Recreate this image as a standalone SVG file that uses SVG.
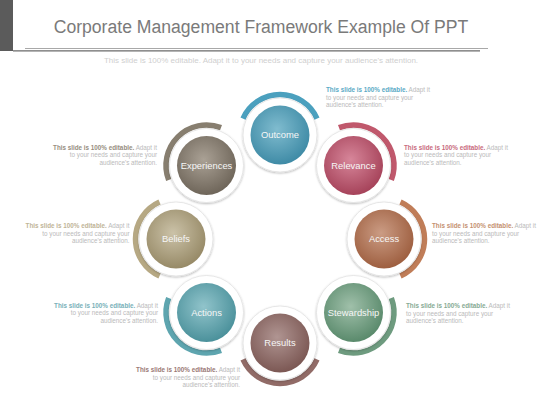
<svg xmlns="http://www.w3.org/2000/svg" width="560" height="420" viewBox="0 0 560 420">
  <style>
    .title{font-family:"Liberation Sans",Arial,sans-serif;font-size:17.6px;fill:#7a7a7a}
    .sub{font-family:"Liberation Sans",Arial,sans-serif;font-size:8px;fill:#cfcfcf}
    .desc{font-family:"Liberation Sans",Arial,sans-serif;font-size:6.3px;fill:#bababa}
    .b{font-weight:bold}
    .lbl{font-family:"Liberation Sans",Arial,sans-serif;font-size:9.4px;fill:#f6f6f6;text-anchor:middle}
    .ring{fill:#ffffff;stroke:#e2e2e2;stroke-width:0.8}
    .arc{fill:none;stroke-width:5.5}
    .end{text-anchor:end}
  </style>
  <defs>
    <filter id="sh" x="-30%" y="-30%" width="160%" height="160%">
      <feDropShadow dx="0" dy="1" stdDeviation="1.3" flood-color="#000" flood-opacity="0.28"/>
    </filter>
    <path id="arcp" d="M16.47,-37.0 A40.5,40.5 0 0 1 16.47,37.0"/>
    <radialGradient id="gOut" cx="45%" cy="40%" r="60%"><stop offset="0" stop-color="#80bccf"/><stop offset="1" stop-color="#3f8ba6"/></radialGradient>
    <radialGradient id="gRel" cx="45%" cy="40%" r="60%"><stop offset="0" stop-color="#d7869a"/><stop offset="1" stop-color="#a6435a"/></radialGradient>
    <radialGradient id="gAcc" cx="45%" cy="40%" r="60%"><stop offset="0" stop-color="#cb9c84"/><stop offset="1" stop-color="#9e5f40"/></radialGradient>
    <radialGradient id="gSte" cx="45%" cy="40%" r="60%"><stop offset="0" stop-color="#a0c0aa"/><stop offset="1" stop-color="#5a8a6c"/></radialGradient>
    <radialGradient id="gRes" cx="45%" cy="40%" r="60%"><stop offset="0" stop-color="#b09592"/><stop offset="1" stop-color="#7c5854"/></radialGradient>
    <radialGradient id="gAct" cx="45%" cy="40%" r="60%"><stop offset="0" stop-color="#91c4cb"/><stop offset="1" stop-color="#4b919b"/></radialGradient>
    <radialGradient id="gBel" cx="45%" cy="40%" r="60%"><stop offset="0" stop-color="#cbc2a8"/><stop offset="1" stop-color="#978a67"/></radialGradient>
    <radialGradient id="gExp" cx="45%" cy="40%" r="60%"><stop offset="0" stop-color="#aaa195"/><stop offset="1" stop-color="#6f665a"/></radialGradient>
  </defs>

  <rect width="560" height="420" fill="#ffffff"/>

  <g id="header">
    <rect x="0" y="0" width="13" height="51" fill="#5b5b5b"/>
    <line x1="25" y1="48.5" x2="488" y2="48.5" stroke="#a8a8a8" stroke-width="1"/>
    <line x1="13" y1="50.8" x2="480" y2="50.8" stroke="#6a6a6a" stroke-width="1.2"/>
    <text class="title" x="261" y="33" text-anchor="middle">Corporate Management Framework Example Of PPT</text>
    <text class="sub" x="261" y="63" text-anchor="middle">This slide is 100% editable. Adapt it to your needs and capture your audience's attention.</text>
  </g>

  <g id="connectors"></g>

  <g id="outcome">
    <g transform="translate(280,135)">
      <use href="#arcp" class="arc" stroke="#4ba0be" transform="rotate(-90)"/>
      <circle class="ring" r="37" filter="url(#sh)"/>
      <circle r="29.5" fill="url(#gOut)"/>
    </g>
    <text class="lbl" x="280" y="138">Outcome</text>
    <text class="desc" x="326" y="92"><tspan class="b" fill="#5aaac5">This slide is 100% editable.</tspan> Adapt it</text>
    <text class="desc" x="326" y="99.6">to your needs and capture your</text>
    <text class="desc" x="326" y="107.2">audience's attention.</text>
  </g>

  <g id="relevance">
    <g transform="translate(353.5,165.5)">
      <use href="#arcp" class="arc" stroke="#c0586c" transform="rotate(-45)"/>
      <circle class="ring" r="37" filter="url(#sh)"/>
      <circle r="29.5" fill="url(#gRel)"/>
    </g>
    <text class="lbl" x="353.5" y="168.5">Relevance</text>
    <text class="desc" x="404" y="149.5"><tspan class="b" fill="#c86a7d">This slide is 100% editable.</tspan> Adapt it</text>
    <text class="desc" x="404" y="157.1">to your needs and capture your</text>
    <text class="desc" x="404" y="164.7">audience's attention.</text>
  </g>

  <g id="access">
    <g transform="translate(384,239)">
      <use href="#arcp" class="arc" stroke="#c07d58" transform="rotate(0)"/>
      <circle class="ring" r="37" filter="url(#sh)"/>
      <circle r="29.5" fill="url(#gAcc)"/>
    </g>
    <text class="lbl" x="384" y="242">Access</text>
    <text class="desc" x="432" y="228"><tspan class="b" fill="#c4906f">This slide is 100% editable.</tspan> Adapt it</text>
    <text class="desc" x="432" y="235.6">to your needs and capture your</text>
    <text class="desc" x="432" y="243.2">audience's attention.</text>
  </g>

  <g id="stewardship">
    <g transform="translate(353.5,312.5)">
      <use href="#arcp" class="arc" stroke="#6e9b7f" transform="rotate(45)"/>
      <circle class="ring" r="37" filter="url(#sh)"/>
      <circle r="29.5" fill="url(#gSte)"/>
    </g>
    <text class="lbl" x="353.5" y="315.5">Stewardship</text>
    <text class="desc" x="406" y="308"><tspan class="b" fill="#86aa93">This slide is 100% editable.</tspan> Adapt it</text>
    <text class="desc" x="406" y="315.6">to your needs and capture your</text>
    <text class="desc" x="406" y="323.2">audience's attention.</text>
  </g>

  <g id="results">
    <g transform="translate(280,343)">
      <use href="#arcp" class="arc" stroke="#916b67" transform="rotate(90)"/>
      <circle class="ring" r="37" filter="url(#sh)"/>
      <circle r="29.5" fill="url(#gRes)"/>
    </g>
    <text class="lbl" x="280" y="346">Results</text>
    <text class="desc end" x="240" y="372"><tspan class="b" fill="#9a7874">This slide is 100% editable.</tspan> Adapt it</text>
    <text class="desc end" x="240" y="379.6">to your needs and capture your</text>
    <text class="desc end" x="240" y="387.2">audience's attention.</text>
  </g>

  <g id="actions">
    <g transform="translate(206.5,312.5)">
      <use href="#arcp" class="arc" stroke="#5ea5af" transform="rotate(135)"/>
      <circle class="ring" r="37" filter="url(#sh)"/>
      <circle r="29.5" fill="url(#gAct)"/>
    </g>
    <text class="lbl" x="206.5" y="315.5">Actions</text>
    <text class="desc end" x="158" y="307.5"><tspan class="b" fill="#78b0b8">This slide is 100% editable.</tspan> Adapt it</text>
    <text class="desc end" x="158" y="315.1">to your needs and capture your</text>
    <text class="desc end" x="158" y="322.7">audience's attention.</text>
  </g>

  <g id="beliefs">
    <g transform="translate(176,239)">
      <use href="#arcp" class="arc" stroke="#b6a883" transform="rotate(180)"/>
      <circle class="ring" r="37" filter="url(#sh)"/>
      <circle r="29.5" fill="url(#gBel)"/>
    </g>
    <text class="lbl" x="176" y="242">Beliefs</text>
    <text class="desc end" x="129.5" y="228"><tspan class="b" fill="#c0b497">This slide is 100% editable.</tspan> Adapt it</text>
    <text class="desc end" x="129.5" y="235.6">to your needs and capture your</text>
    <text class="desc end" x="129.5" y="243.2">audience's attention.</text>
  </g>

  <g id="experiences">
    <g transform="translate(206.5,165.5)">
      <use href="#arcp" class="arc" stroke="#877e6f" transform="rotate(225)"/>
      <circle class="ring" r="37" filter="url(#sh)"/>
      <circle r="29.5" fill="url(#gExp)"/>
    </g>
    <text class="lbl" x="206.5" y="168.5">Experiences</text>
    <text class="desc end" x="157" y="149.5"><tspan class="b" fill="#968d7e">This slide is 100% editable.</tspan> Adapt it</text>
    <text class="desc end" x="157" y="157.1">to your needs and capture your</text>
    <text class="desc end" x="157" y="164.7">audience's attention.</text>
  </g>
</svg>
